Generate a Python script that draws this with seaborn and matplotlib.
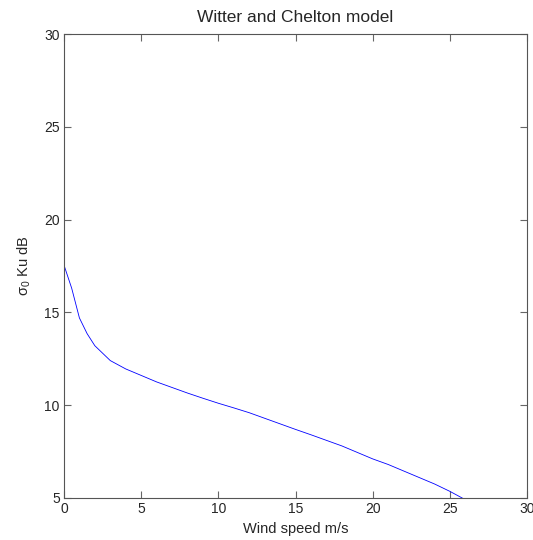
import matplotlib
matplotlib.use("Agg")
import matplotlib.pyplot as plt
import pandas as pd
import seaborn as sns

# wind speed (m/s) and sigma0 (dB)
wind_speed = [0, 0.5, 1, 1.5, 2, 3, 4, 5, 6, 7, 8, 9, 10, 11, 12, 13, 14, 15,
              16, 17, 18, 19, 20, 21, 22, 23, 24, 25, 26]
sigma0_ku = [17.55, 16.3, 14.7, 13.85, 13.2, 12.4, 11.95, 11.6, 11.25, 10.95,
             10.65, 10.37, 10.1, 9.85, 9.59, 9.29, 8.99, 8.69, 8.4, 8.1, 7.8,
             7.45, 7.1, 6.8, 6.45, 6.1, 5.75, 5.35, 4.9]

df = pd.DataFrame({"wind": wind_speed, "sigma0": sigma0_ku})

sns.set_style("ticks")
plt.rcParams["font.family"] = ["Liberation Sans", "DejaVu Sans"]
plt.rcParams["mathtext.fontset"] = "custom"
plt.rcParams["mathtext.rm"] = "Liberation Sans"
plt.rcParams["mathtext.it"] = "Liberation Sans"

fig = plt.figure(figsize=(5.33, 5.40), dpi=100)
ax = fig.add_axes([0.120, 0.078, 0.869, 0.859])

sns.lineplot(data=df, x="wind", y="sigma0", ax=ax, color="blue", linewidth=0.6)

ax.set(xlim=[0, 30], ylim=[5, 30])
ax.set_xticks(range(0, 31, 5))
ax.set_yticks(range(5, 31, 5))
ax.tick_params(direction="in", top=True, right=True, length=5, width=0.8,
               color="#666666", labelsize=10, pad=3)
for spine in ax.spines.values():
    spine.set_visible(True)
    spine.set_color("#555555")
    spine.set_linewidth(0.8)

ax.set_xlabel("Wind speed m/s", fontsize=10.5, labelpad=4)
ax.set_ylabel(r"σ$_0$ Ku dB", fontsize=10.5, labelpad=8)
ax.set_title("Witter and Chelton model", fontsize=12.5, pad=9)

fig.savefig("out.png", dpi=100)
